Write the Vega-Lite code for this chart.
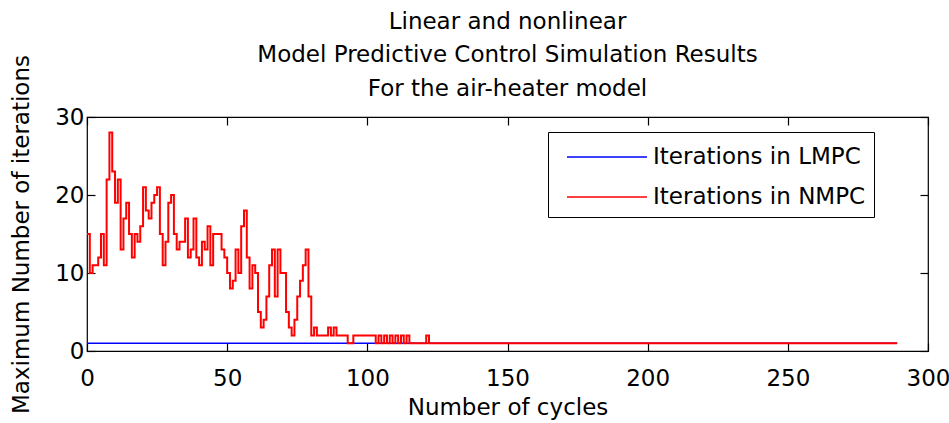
{
  "$schema": "https://vega.github.io/schema/vega-lite/v6.json",
  "width": 841,
  "height": 234,
  "autosize": {"type": "none"},
  "padding": {"left": 87, "top": 117, "right": 21, "bottom": 72},
  "background": "#ffffff",
  "title": {
    "text": ["Linear and nonlinear", "Model Predictive Control Simulation Results", "For the air-heater model"],
    "font": "DejaVu Sans",
    "fontSize": 23,
    "fontWeight": "normal",
    "color": "#000000",
    "lineHeight": 33.5,
    "anchor": "middle",
    "frame": "group",
    "offset": 17,
    "dy": 63
  },
  "config": {
    "view": {"stroke": "#000000", "strokeWidth": 1.2},
    "axis": {
      "domain": false,
      "grid": false,
      "labelFlush": false,
      "tickColor": "#000000",
      "tickWidth": 1.2,
      "labelColor": "#000000",
      "titleColor": "#000000",
      "labelFont": "DejaVu Sans",
      "titleFont": "DejaVu Sans",
      "labelFontSize": 23,
      "titleFontSize": 23,
      "titleFontWeight": "normal"
    },
    "legend": {
      "labelFont": "DejaVu Sans",
      "labelFontSize": 23,
      "labelColor": "#000000",
      "labelLimit": 0
    }
  },
  "data": {
    "values": [
      {"cycle":0,"LMPC":1,"NMPC":15},{"cycle":1,"LMPC":1,"NMPC":10},{"cycle":2,"LMPC":1,"NMPC":11},{"cycle":3,"LMPC":1,"NMPC":11},{"cycle":4,"LMPC":1,"NMPC":12},
      {"cycle":5,"LMPC":1,"NMPC":15},{"cycle":6,"LMPC":1,"NMPC":11},{"cycle":7,"LMPC":1,"NMPC":22},{"cycle":8,"LMPC":1,"NMPC":28},{"cycle":9,"LMPC":1,"NMPC":23},
      {"cycle":10,"LMPC":1,"NMPC":19},{"cycle":11,"LMPC":1,"NMPC":22},{"cycle":12,"LMPC":1,"NMPC":13},{"cycle":13,"LMPC":1,"NMPC":17},{"cycle":14,"LMPC":1,"NMPC":19},
      {"cycle":15,"LMPC":1,"NMPC":15},{"cycle":16,"LMPC":1,"NMPC":12},{"cycle":17,"LMPC":1,"NMPC":15},{"cycle":18,"LMPC":1,"NMPC":14},{"cycle":19,"LMPC":1,"NMPC":16},
      {"cycle":20,"LMPC":1,"NMPC":21},{"cycle":21,"LMPC":1,"NMPC":18},{"cycle":22,"LMPC":1,"NMPC":17},{"cycle":23,"LMPC":1,"NMPC":19},{"cycle":24,"LMPC":1,"NMPC":20},
      {"cycle":25,"LMPC":1,"NMPC":21},{"cycle":26,"LMPC":1,"NMPC":15},{"cycle":27,"LMPC":1,"NMPC":11},{"cycle":28,"LMPC":1,"NMPC":14},{"cycle":29,"LMPC":1,"NMPC":19},
      {"cycle":30,"LMPC":1,"NMPC":20},{"cycle":31,"LMPC":1,"NMPC":15},{"cycle":32,"LMPC":1,"NMPC":13},{"cycle":33,"LMPC":1,"NMPC":14},{"cycle":34,"LMPC":1,"NMPC":14},
      {"cycle":35,"LMPC":1,"NMPC":17},{"cycle":36,"LMPC":1,"NMPC":12},{"cycle":37,"LMPC":1,"NMPC":13},{"cycle":38,"LMPC":1,"NMPC":17},{"cycle":39,"LMPC":1,"NMPC":12},
      {"cycle":40,"LMPC":1,"NMPC":11},{"cycle":41,"LMPC":1,"NMPC":14},{"cycle":42,"LMPC":1,"NMPC":13},{"cycle":43,"LMPC":1,"NMPC":16},{"cycle":44,"LMPC":1,"NMPC":11},
      {"cycle":45,"LMPC":1,"NMPC":15},{"cycle":46,"LMPC":1,"NMPC":15},{"cycle":47,"LMPC":1,"NMPC":15},{"cycle":48,"LMPC":1,"NMPC":13},{"cycle":49,"LMPC":1,"NMPC":12},
      {"cycle":50,"LMPC":1,"NMPC":10},{"cycle":51,"LMPC":1,"NMPC":8},{"cycle":52,"LMPC":1,"NMPC":9},{"cycle":53,"LMPC":1,"NMPC":13},{"cycle":54,"LMPC":1,"NMPC":10},
      {"cycle":55,"LMPC":1,"NMPC":16},{"cycle":56,"LMPC":1,"NMPC":18},{"cycle":57,"LMPC":1,"NMPC":12},{"cycle":58,"LMPC":1,"NMPC":8},{"cycle":59,"LMPC":1,"NMPC":11},
      {"cycle":60,"LMPC":1,"NMPC":10},{"cycle":61,"LMPC":1,"NMPC":5},{"cycle":62,"LMPC":1,"NMPC":3},{"cycle":63,"LMPC":1,"NMPC":4},{"cycle":64,"LMPC":1,"NMPC":7},
      {"cycle":65,"LMPC":1,"NMPC":11},{"cycle":66,"LMPC":1,"NMPC":13},{"cycle":67,"LMPC":1,"NMPC":7},{"cycle":68,"LMPC":1,"NMPC":13},{"cycle":69,"LMPC":1,"NMPC":10},
      {"cycle":70,"LMPC":1,"NMPC":10},{"cycle":71,"LMPC":1,"NMPC":5},{"cycle":72,"LMPC":1,"NMPC":3},{"cycle":73,"LMPC":1,"NMPC":2},{"cycle":74,"LMPC":1,"NMPC":4},
      {"cycle":75,"LMPC":1,"NMPC":7},{"cycle":76,"LMPC":1,"NMPC":9},{"cycle":77,"LMPC":1,"NMPC":11},{"cycle":78,"LMPC":1,"NMPC":13},{"cycle":79,"LMPC":1,"NMPC":7},
      {"cycle":80,"LMPC":1,"NMPC":2},{"cycle":81,"LMPC":1,"NMPC":3},{"cycle":82,"LMPC":1,"NMPC":2},{"cycle":83,"LMPC":1,"NMPC":2},{"cycle":84,"LMPC":1,"NMPC":2},
      {"cycle":85,"LMPC":1,"NMPC":2},{"cycle":86,"LMPC":1,"NMPC":3},{"cycle":87,"LMPC":1,"NMPC":2},{"cycle":88,"LMPC":1,"NMPC":3},{"cycle":89,"LMPC":1,"NMPC":2},
      {"cycle":90,"LMPC":1,"NMPC":2},{"cycle":91,"LMPC":1,"NMPC":2},{"cycle":92,"LMPC":1,"NMPC":2},{"cycle":93,"LMPC":1,"NMPC":1},{"cycle":94,"LMPC":1,"NMPC":1},
      {"cycle":95,"LMPC":1,"NMPC":2},{"cycle":96,"LMPC":1,"NMPC":2},{"cycle":97,"LMPC":1,"NMPC":2},{"cycle":98,"LMPC":1,"NMPC":2},{"cycle":99,"LMPC":1,"NMPC":2},
      {"cycle":100,"LMPC":1,"NMPC":2},{"cycle":101,"LMPC":1,"NMPC":2},{"cycle":102,"LMPC":1,"NMPC":2},{"cycle":103,"LMPC":1,"NMPC":1},{"cycle":104,"LMPC":1,"NMPC":2},
      {"cycle":105,"LMPC":1,"NMPC":1},{"cycle":106,"LMPC":1,"NMPC":2},{"cycle":107,"LMPC":1,"NMPC":1},{"cycle":108,"LMPC":1,"NMPC":2},{"cycle":109,"LMPC":1,"NMPC":1},
      {"cycle":110,"LMPC":1,"NMPC":2},{"cycle":111,"LMPC":1,"NMPC":1},{"cycle":112,"LMPC":1,"NMPC":2},{"cycle":113,"LMPC":1,"NMPC":1},{"cycle":114,"LMPC":1,"NMPC":2},
      {"cycle":115,"LMPC":1,"NMPC":1},{"cycle":116,"LMPC":1,"NMPC":1},{"cycle":117,"LMPC":1,"NMPC":1},{"cycle":118,"LMPC":1,"NMPC":1},{"cycle":119,"LMPC":1,"NMPC":1},
      {"cycle":120,"LMPC":1,"NMPC":1},{"cycle":121,"LMPC":1,"NMPC":2},{"cycle":122,"LMPC":1,"NMPC":1},{"cycle":123,"LMPC":1,"NMPC":1},{"cycle":124,"LMPC":1,"NMPC":1},
      {"cycle":125,"LMPC":1,"NMPC":1},{"cycle":126,"LMPC":1,"NMPC":1},{"cycle":127,"LMPC":1,"NMPC":1},{"cycle":128,"LMPC":1,"NMPC":1},{"cycle":129,"LMPC":1,"NMPC":1},
      {"cycle":130,"LMPC":1,"NMPC":1},{"cycle":131,"LMPC":1,"NMPC":1},{"cycle":132,"LMPC":1,"NMPC":1},{"cycle":133,"LMPC":1,"NMPC":1},{"cycle":134,"LMPC":1,"NMPC":1},
      {"cycle":135,"LMPC":1,"NMPC":1},{"cycle":136,"LMPC":1,"NMPC":1},{"cycle":137,"LMPC":1,"NMPC":1},{"cycle":138,"LMPC":1,"NMPC":1},{"cycle":139,"LMPC":1,"NMPC":1},
      {"cycle":140,"LMPC":1,"NMPC":1},{"cycle":141,"LMPC":1,"NMPC":1},{"cycle":142,"LMPC":1,"NMPC":1},{"cycle":143,"LMPC":1,"NMPC":1},{"cycle":144,"LMPC":1,"NMPC":1},
      {"cycle":145,"LMPC":1,"NMPC":1},{"cycle":146,"LMPC":1,"NMPC":1},{"cycle":147,"LMPC":1,"NMPC":1},{"cycle":148,"LMPC":1,"NMPC":1},{"cycle":149,"LMPC":1,"NMPC":1},
      {"cycle":150,"LMPC":1,"NMPC":1},{"cycle":151,"LMPC":1,"NMPC":1},{"cycle":152,"LMPC":1,"NMPC":1},{"cycle":153,"LMPC":1,"NMPC":1},{"cycle":154,"LMPC":1,"NMPC":1},
      {"cycle":155,"LMPC":1,"NMPC":1},{"cycle":156,"LMPC":1,"NMPC":1},{"cycle":157,"LMPC":1,"NMPC":1},{"cycle":158,"LMPC":1,"NMPC":1},{"cycle":159,"LMPC":1,"NMPC":1},
      {"cycle":160,"LMPC":1,"NMPC":1},{"cycle":161,"LMPC":1,"NMPC":1},{"cycle":162,"LMPC":1,"NMPC":1},{"cycle":163,"LMPC":1,"NMPC":1},{"cycle":164,"LMPC":1,"NMPC":1},
      {"cycle":165,"LMPC":1,"NMPC":1},{"cycle":166,"LMPC":1,"NMPC":1},{"cycle":167,"LMPC":1,"NMPC":1},{"cycle":168,"LMPC":1,"NMPC":1},{"cycle":169,"LMPC":1,"NMPC":1},
      {"cycle":170,"LMPC":1,"NMPC":1},{"cycle":171,"LMPC":1,"NMPC":1},{"cycle":172,"LMPC":1,"NMPC":1},{"cycle":173,"LMPC":1,"NMPC":1},{"cycle":174,"LMPC":1,"NMPC":1},
      {"cycle":175,"LMPC":1,"NMPC":1},{"cycle":176,"LMPC":1,"NMPC":1},{"cycle":177,"LMPC":1,"NMPC":1},{"cycle":178,"LMPC":1,"NMPC":1},{"cycle":179,"LMPC":1,"NMPC":1},
      {"cycle":180,"LMPC":1,"NMPC":1},{"cycle":181,"LMPC":1,"NMPC":1},{"cycle":182,"LMPC":1,"NMPC":1},{"cycle":183,"LMPC":1,"NMPC":1},{"cycle":184,"LMPC":1,"NMPC":1},
      {"cycle":185,"LMPC":1,"NMPC":1},{"cycle":186,"LMPC":1,"NMPC":1},{"cycle":187,"LMPC":1,"NMPC":1},{"cycle":188,"LMPC":1,"NMPC":1},{"cycle":189,"LMPC":1,"NMPC":1},
      {"cycle":190,"LMPC":1,"NMPC":1},{"cycle":191,"LMPC":1,"NMPC":1},{"cycle":192,"LMPC":1,"NMPC":1},{"cycle":193,"LMPC":1,"NMPC":1},{"cycle":194,"LMPC":1,"NMPC":1},
      {"cycle":195,"LMPC":1,"NMPC":1},{"cycle":196,"LMPC":1,"NMPC":1},{"cycle":197,"LMPC":1,"NMPC":1},{"cycle":198,"LMPC":1,"NMPC":1},{"cycle":199,"LMPC":1,"NMPC":1},
      {"cycle":200,"LMPC":1,"NMPC":1},{"cycle":201,"LMPC":1,"NMPC":1},{"cycle":202,"LMPC":1,"NMPC":1},{"cycle":203,"LMPC":1,"NMPC":1},{"cycle":204,"LMPC":1,"NMPC":1},
      {"cycle":205,"LMPC":1,"NMPC":1},{"cycle":206,"LMPC":1,"NMPC":1},{"cycle":207,"LMPC":1,"NMPC":1},{"cycle":208,"LMPC":1,"NMPC":1},{"cycle":209,"LMPC":1,"NMPC":1},
      {"cycle":210,"LMPC":1,"NMPC":1},{"cycle":211,"LMPC":1,"NMPC":1},{"cycle":212,"LMPC":1,"NMPC":1},{"cycle":213,"LMPC":1,"NMPC":1},{"cycle":214,"LMPC":1,"NMPC":1},
      {"cycle":215,"LMPC":1,"NMPC":1},{"cycle":216,"LMPC":1,"NMPC":1},{"cycle":217,"LMPC":1,"NMPC":1},{"cycle":218,"LMPC":1,"NMPC":1},{"cycle":219,"LMPC":1,"NMPC":1},
      {"cycle":220,"LMPC":1,"NMPC":1},{"cycle":221,"LMPC":1,"NMPC":1},{"cycle":222,"LMPC":1,"NMPC":1},{"cycle":223,"LMPC":1,"NMPC":1},{"cycle":224,"LMPC":1,"NMPC":1},
      {"cycle":225,"LMPC":1,"NMPC":1},{"cycle":226,"LMPC":1,"NMPC":1},{"cycle":227,"LMPC":1,"NMPC":1},{"cycle":228,"LMPC":1,"NMPC":1},{"cycle":229,"LMPC":1,"NMPC":1},
      {"cycle":230,"LMPC":1,"NMPC":1},{"cycle":231,"LMPC":1,"NMPC":1},{"cycle":232,"LMPC":1,"NMPC":1},{"cycle":233,"LMPC":1,"NMPC":1},{"cycle":234,"LMPC":1,"NMPC":1},
      {"cycle":235,"LMPC":1,"NMPC":1},{"cycle":236,"LMPC":1,"NMPC":1},{"cycle":237,"LMPC":1,"NMPC":1},{"cycle":238,"LMPC":1,"NMPC":1},{"cycle":239,"LMPC":1,"NMPC":1},
      {"cycle":240,"LMPC":1,"NMPC":1},{"cycle":241,"LMPC":1,"NMPC":1},{"cycle":242,"LMPC":1,"NMPC":1},{"cycle":243,"LMPC":1,"NMPC":1},{"cycle":244,"LMPC":1,"NMPC":1},
      {"cycle":245,"LMPC":1,"NMPC":1},{"cycle":246,"LMPC":1,"NMPC":1},{"cycle":247,"LMPC":1,"NMPC":1},{"cycle":248,"LMPC":1,"NMPC":1},{"cycle":249,"LMPC":1,"NMPC":1},
      {"cycle":250,"LMPC":1,"NMPC":1},{"cycle":251,"LMPC":1,"NMPC":1},{"cycle":252,"LMPC":1,"NMPC":1},{"cycle":253,"LMPC":1,"NMPC":1},{"cycle":254,"LMPC":1,"NMPC":1},
      {"cycle":255,"LMPC":1,"NMPC":1},{"cycle":256,"LMPC":1,"NMPC":1},{"cycle":257,"LMPC":1,"NMPC":1},{"cycle":258,"LMPC":1,"NMPC":1},{"cycle":259,"LMPC":1,"NMPC":1},
      {"cycle":260,"LMPC":1,"NMPC":1},{"cycle":261,"LMPC":1,"NMPC":1},{"cycle":262,"LMPC":1,"NMPC":1},{"cycle":263,"LMPC":1,"NMPC":1},{"cycle":264,"LMPC":1,"NMPC":1},
      {"cycle":265,"LMPC":1,"NMPC":1},{"cycle":266,"LMPC":1,"NMPC":1},{"cycle":267,"LMPC":1,"NMPC":1},{"cycle":268,"LMPC":1,"NMPC":1},{"cycle":269,"LMPC":1,"NMPC":1},
      {"cycle":270,"LMPC":1,"NMPC":1},{"cycle":271,"LMPC":1,"NMPC":1},{"cycle":272,"LMPC":1,"NMPC":1},{"cycle":273,"LMPC":1,"NMPC":1},{"cycle":274,"LMPC":1,"NMPC":1},
      {"cycle":275,"LMPC":1,"NMPC":1},{"cycle":276,"LMPC":1,"NMPC":1},{"cycle":277,"LMPC":1,"NMPC":1},{"cycle":278,"LMPC":1,"NMPC":1},{"cycle":279,"LMPC":1,"NMPC":1},
      {"cycle":280,"LMPC":1,"NMPC":1},{"cycle":281,"LMPC":1,"NMPC":1},{"cycle":282,"LMPC":1,"NMPC":1},{"cycle":283,"LMPC":1,"NMPC":1},{"cycle":284,"LMPC":1,"NMPC":1},
      {"cycle":285,"LMPC":1,"NMPC":1},{"cycle":286,"LMPC":1,"NMPC":1},{"cycle":287,"LMPC":1,"NMPC":1},{"cycle":288,"LMPC":1,"NMPC":1},{"cycle":289,"LMPC":1,"NMPC":1}
    ]
  },
  "transform": [
    {"fold": ["LMPC", "NMPC"], "as": ["controller", "iterations"]}
  ],
  "resolve": {"axis": {"x": "independent", "y": "independent"}},
  "layer": [
    {
      "transform": [{"filter": "datum.controller === 'LMPC'"}],
      "mark": {"type": "line", "interpolate": "step-after", "strokeWidth": 1.5},
      "encoding": {
        "x": {
          "field": "cycle", "type": "quantitative",
          "scale": {"domain": [0, 300], "nice": false},
          "axis": {"orient": "bottom", "values": [0, 50, 100, 150, 200, 250, 300], "tickSize": -8, "labelPadding": 24, "title": "Number of cycles", "titlePadding": 6}
        },
        "y": {
          "field": "iterations", "type": "quantitative",
          "scale": {"domain": [0, 30], "nice": false},
          "axis": {"orient": "left", "values": [0, 10, 20, 30], "tickSize": -8, "labelPadding": 11, "title": "Maximum Number of iterations", "titlePadding": 21}
        },
        "color": {
          "field": "controller", "type": "nominal",
          "scale": {"domain": ["LMPC", "NMPC"], "range": ["#0000ff", "#ff0000"]},
          "legend": {
            "title": null,
            "orient": "none",
            "legendX": 461,
            "legendY": 15,
            "direction": "vertical",
            "symbolType": "M-2.5,0H2.5",
            "symbolSize": 1024,
            "symbolStrokeWidth": 1.5,
            "symbolOffset": 34,
            "labelOffset": 29,
            "rowPadding": 11,
            "padding": 8,
            "strokeColor": "#000000",
            "fillColor": "#ffffff",
            "labelExpr": "'Iterations in ' + datum.label"
          }
        }
      }
    },
    {
      "transform": [{"filter": "datum.controller === 'NMPC'"}],
      "mark": {"type": "line", "interpolate": "step-after", "strokeWidth": 2},
      "encoding": {
        "x": {
          "field": "cycle", "type": "quantitative",
          "axis": {"orient": "top", "values": [0, 50, 100, 150, 200, 250, 300], "tickSize": -8, "labels": false, "title": null}
        },
        "y": {
          "field": "iterations", "type": "quantitative",
          "axis": {"orient": "right", "values": [0, 10, 20, 30], "tickSize": -8, "labels": false, "title": null}
        },
        "color": {"field": "controller", "type": "nominal"}
      }
    }
  ]
}
